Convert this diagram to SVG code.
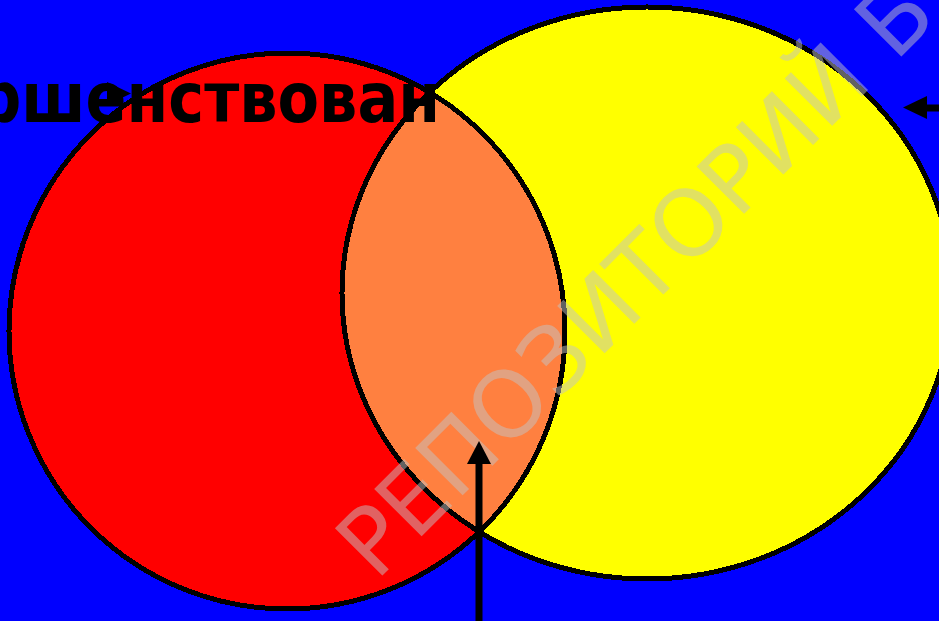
<svg xmlns="http://www.w3.org/2000/svg" width="939" height="621" viewBox="0 0 939 621">
<style>
.shape{shape-rendering:crispEdges}
.outline{fill:none;stroke:#000;stroke-width:5;shape-rendering:crispEdges}
.label{font-family:"DejaVu Sans Condensed","DejaVu Sans","Liberation Sans",sans-serif;font-weight:bold;fill:#000}
.wm{font-family:"DejaVu Sans","Liberation Sans",sans-serif;fill:#c4c4c4;opacity:0.5}
.conn{stroke:#000;stroke-width:7;fill:none}
.head{fill:#000}
</style>
<defs>
<clipPath id="redClip"><circle cx="287" cy="331" r="278"/></clipPath>
</defs>
<rect x="0" y="0" width="939" height="621" fill="#0000FF"/>
<g id="set-a">
<circle class="shape" cx="287" cy="331" r="278" fill="#FF0000"/>
</g>
<g id="set-b">
<ellipse class="shape" cx="647" cy="293" rx="305" ry="286" fill="#FFFF00"/>
</g>
<g id="intersection">
<ellipse class="shape" cx="647" cy="293" rx="305" ry="286" fill="#FF8040" clip-path="url(#redClip)"/>
</g>
<g id="outlines">
<circle class="outline" cx="287" cy="331" r="278"/>
<ellipse class="outline" cx="647" cy="293" rx="305" ry="286"/>
</g>
<text class="wm" font-size="92" transform="translate(376,582) rotate(-45)">РЕПОЗИТОРИЙ Б</text>
<g id="title">
<text class="label" x="-22" y="122" font-size="69" textLength="462" lengthAdjust="spacingAndGlyphs">ршенствован</text>
</g>
<g id="connectors">
<polygon class="head" points="107,82 131,93.5 107,105"/>
<line class="conn" x1="939" y1="108" x2="925" y2="108"/>
<polygon class="head" points="903,107.5 927,96 927,119"/>
<line class="conn" x1="479" y1="621" x2="479" y2="462"/>
<polygon class="head" points="479,441 491,464 467,464"/>
</g>
</svg>
